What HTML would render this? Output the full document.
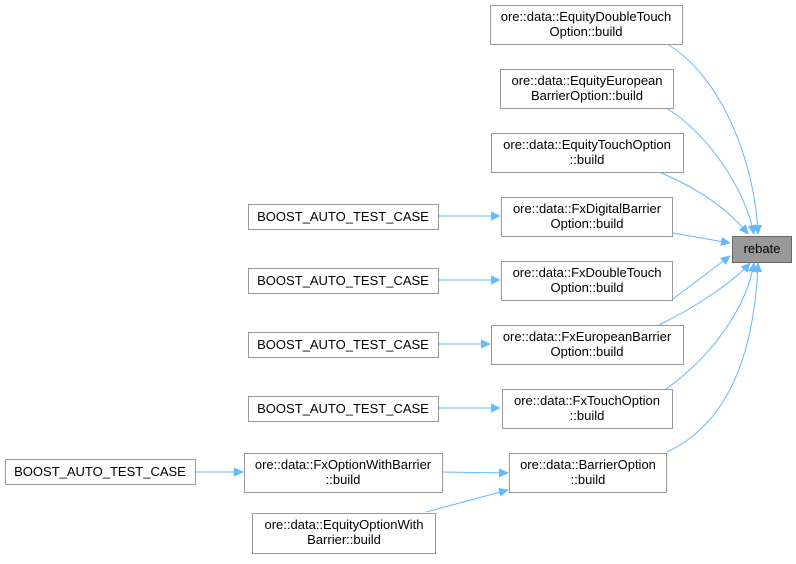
<!DOCTYPE html>
<html><head><style>
body{margin:0;background:#fff;width:796px;height:559px;overflow:hidden}
svg text{font-family:"Liberation Sans",sans-serif;font-size:13px;fill:#000}
</style></head><body>
<svg width="796" height="559" viewBox="0 0 796 559">
<defs><marker id="a" markerWidth="10" markerHeight="10" refX="9" refY="5" orient="auto" markerUnits="userSpaceOnUse"><path d="M0,0.5 L10,5 L0,9.5z" fill="#63b8ff"/></marker></defs>
<g fill="none" stroke="#63b8ff" stroke-width="1" marker-end="url(#a)">
<path d="M667,44 C720,75 755,160 758,234"/>
<path d="M666,108 C710,135 745,190 754,234"/>
<path d="M659,172 C690,185 725,205 748,234"/>
<path d="M673,233 L730,243"/>
<path d="M673,299 L730,256"/>
<path d="M659,325 C700,305 735,280 750,263"/>
<path d="M666,389 C720,350 748,300 754,263"/>
<path d="M667,452 C735,420 755,340 758,263"/>
<path d="M438,216 L500,216"/>
<path d="M438,280 L500,280"/>
<path d="M438,344 L490,344"/>
<path d="M438,408 L500,408"/>
<path d="M195,472 L243,472"/>
<path d="M442,472 L508,473"/>
<path d="M426,512 L508,490"/>
</g>
<g fill="#fff" stroke="#999" stroke-width="1">
<rect x="490.5" y="5.5" width="192" height="39"/>
<rect x="500.5" y="69.5" width="173" height="39"/>
<rect x="491.5" y="133.5" width="192" height="39"/>
<rect x="501.5" y="197.5" width="171" height="39"/>
<rect x="501.5" y="261.5" width="171" height="39"/>
<rect x="491.5" y="325.5" width="192" height="39"/>
<rect x="502.5" y="389.5" width="170" height="39"/>
<rect x="509.5" y="453.5" width="157" height="39"/>
<rect x="248.5" y="204.5" width="190" height="25"/>
<rect x="248.5" y="268.5" width="190" height="25"/>
<rect x="248.5" y="332.5" width="190" height="25"/>
<rect x="248.5" y="396.5" width="190" height="25"/>
<rect x="5.5" y="459.5" width="190" height="25"/>
<rect x="244.5" y="453.5" width="198" height="39"/>
<rect x="252.5" y="513.5" width="183" height="40"/>
<rect x="732.5" y="236.5" width="59" height="26" fill="#999" stroke="#666"/>
</g>
<g text-anchor="middle">
<text x="586" y="21">ore::data::EquityDoubleTouch</text><text x="586" y="36">Option::build</text>
<text x="587" y="85">ore::data::EquityEuropean</text><text x="587" y="100">BarrierOption::build</text>
<text x="587" y="149">ore::data::EquityTouchOption</text><text x="587" y="164">::build</text>
<text x="587" y="213">ore::data::FxDigitalBarrier</text><text x="587" y="228">Option::build</text>
<text x="587" y="277">ore::data::FxDoubleTouch</text><text x="587" y="292">Option::build</text>
<text x="587" y="341">ore::data::FxEuropeanBarrier</text><text x="587" y="356">Option::build</text>
<text x="587" y="405">ore::data::FxTouchOption</text><text x="587" y="420">::build</text>
<text x="588" y="469">ore::data::BarrierOption</text><text x="588" y="484">::build</text>
<text x="343" y="221">BOOST_AUTO_TEST_CASE</text>
<text x="343" y="285">BOOST_AUTO_TEST_CASE</text>
<text x="343" y="349">BOOST_AUTO_TEST_CASE</text>
<text x="343" y="413">BOOST_AUTO_TEST_CASE</text>
<text x="100" y="476">BOOST_AUTO_TEST_CASE</text>
<text x="343" y="469">ore::data::FxOptionWithBarrier</text><text x="343" y="484">::build</text>
<text x="344" y="529">ore::data::EquityOptionWith</text><text x="344" y="544">Barrier::build</text>
<text x="762" y="253">rebate</text>
</g>
</svg>
</body></html>
